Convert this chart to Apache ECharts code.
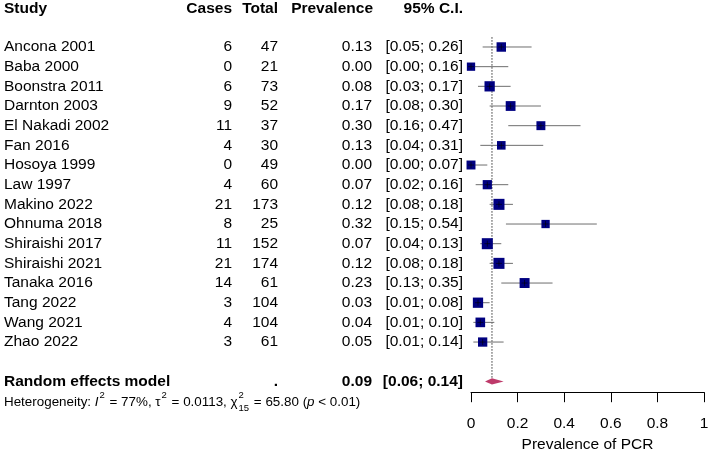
<!DOCTYPE html>
<html>
<head>
<meta charset="utf-8">
<script src="https://cdn.jsdelivr.net/npm/echarts@6/dist/echarts.min.js"></script>
<style>
html, body { margin: 0; padding: 0; background: #fff; }
#main { width: 709px; height: 451px; }
</style>
</head>
<body>
<div id="main"></div>
<script>
// study data
var studies = ['Ancona 2001', 'Baba 2000', 'Boonstra 2011', 'Darnton 2003', 'El Nakadi 2002', 'Fan 2016',
  'Hosoya 1999', 'Law 1997', 'Makino 2022', 'Ohnuma 2018', 'Shiraishi 2017', 'Shiraishi 2021',
  'Tanaka 2016', 'Tang 2022', 'Wang 2021', 'Zhao 2022'];
var cases = [6, 0, 6, 9, 11, 4, 0, 4, 21, 8, 11, 21, 14, 3, 4, 3];
var totals = [47, 21, 73, 52, 37, 30, 49, 60, 173, 25, 152, 174, 61, 104, 104, 61];
var prevalence = [0.13, 0.00, 0.08, 0.17, 0.30, 0.13, 0.00, 0.07, 0.12, 0.32, 0.07, 0.12, 0.23, 0.03, 0.04, 0.05];
var ciLower = [0.05, 0.00, 0.03, 0.08, 0.16, 0.04, 0.00, 0.02, 0.08, 0.15, 0.04, 0.08, 0.13, 0.01, 0.01, 0.01];
var ciUpper = [0.26, 0.16, 0.17, 0.30, 0.47, 0.31, 0.07, 0.16, 0.18, 0.54, 0.13, 0.18, 0.35, 0.08, 0.10, 0.14];
// random-effects weights (%), drive box size
var weights = [5.6, 4.3, 6.6, 6.0, 5.0, 4.6, 5.0, 5.3, 7.6, 4.3, 7.6, 7.6, 6.2, 6.6, 5.8, 5.4];
// pooled estimate [est, lower, upper]
var pooled = [0.09, 0.06, 0.14];
var xTicks = ['0', '0.2', '0.4', '0.6', '0.8', '1'];

var FONT = '"Liberation Sans", Arial, sans-serif';
var FS = 15.5;
var POOLED_ROW = 17;

var chart = echarts.init(document.getElementById('main'));

function txt(x, y, s, align, bold) {
  return {
    type: 'text',
    style: {
      x: x, y: y, text: s, align: align, verticalAlign: 'middle',
      font: (bold ? 'bold ' : '') + FS + 'px ' + FONT, fill: '#000'
    }
  };
}

var rows = studies.map(function (s, i) {
  return [prevalence[i], i, ciLower[i], ciUpper[i], weights[i]];
});

// heterogeneity line, pieces laid out with measured widths
function heterogeneity(x0, y0) {
  var ctx = document.createElement('canvas').getContext('2d');
  var fs = 13.4, small = 9.5;
  var parts = [
    ['Heterogeneity: ', 'n'], ['I', 'i'], ['2', 'sup'], [' = 77%, \u03c4', 'n'], ['2', 'sup'],
    [' = 0.0113, \u03c7', 'n'], ['2|15', 'supsub'], [' = 65.80 (', 'n'], ['p', 'i'], [' < 0.01)', 'n']
  ];
  var els = [], x = x0;
  parts.forEach(function (p) {
    var kind = p[1];
    if (kind === 'n' || kind === 'i') {
      var f = (kind === 'i' ? 'italic ' : '') + fs + 'px ' + FONT;
      ctx.font = f;
      els.push({ type: 'text', style: { x: x, y: y0, text: p[0], font: f, fill: '#000', verticalAlign: 'middle' } });
      x += ctx.measureText(p[0]).width;
    } else {
      var f2 = small + 'px ' + FONT;
      ctx.font = f2;
      var sup = kind === 'sup' ? p[0] : p[0].split('|')[0];
      var w = ctx.measureText(sup).width;
      els.push({ type: 'text', style: { x: x + 1, y: y0 - 6.5, text: sup, font: f2, fill: '#000', verticalAlign: 'middle' } });
      if (kind === 'supsub') {
        var sub = p[0].split('|')[1];
        els.push({ type: 'text', style: { x: x + 1, y: y0 + 6.5, text: sub, font: f2, fill: '#000', verticalAlign: 'middle' } });
        w = Math.max(w, ctx.measureText(sub).width);
      }
      x += w + 2;
    }
  });
  return els;
}

var option = {
  animation: false,
  grid: { left: 471, right: 5, top: 7.66, bottom: 58.8, containLabel: false, outerBoundsMode: 'none' },
  xAxis: {
    type: 'value', min: 0, max: 1, interval: 0.2, position: 'bottom',
    axisLine: { show: true, onZero: false, lineStyle: { color: '#000', width: 1 } },
    axisTick: { show: true, inside: false, length: 10, lineStyle: { color: '#000' } },
    axisLabel: {
      color: '#000', fontSize: FS, fontFamily: FONT, margin: 24,
      formatter: function (v) { return xTicks[Math.round(v / 0.2)]; }
    },
    splitLine: { show: false },
    name: 'Prevalence of PCR', nameLocation: 'middle', nameGap: 43,
    nameTextStyle: { color: '#000', fontSize: FS, fontFamily: FONT }
  },
  yAxis: { type: 'value', inverse: true, min: -2, max: 17.55, show: false },
  graphic: [
    txt(4, 9, 'Study', 'left', true),
    txt(232, 9, 'Cases', 'right', true),
    txt(278, 9, 'Total', 'right', true),
    txt(373, 9, 'Prevalence', 'right', true),
    txt(463, 9, '95% C.I.', 'right', true),
    { type: 'group', children: heterogeneity(4, 402) }
  ],
  series: [
    {
      // reference line at pooled estimate
      type: 'custom', clip: false, silent: true,
      data: [[pooled[0], -0.5, POOLED_ROW - 0.15]],
      renderItem: function (params, api) {
        var a = api.coord([api.value(0), api.value(1)]);
        var b = api.coord([api.value(0), api.value(2)]);
        return {
          type: 'line', shape: { x1: a[0], y1: a[1], x2: b[0], y2: b[1] },
          style: { stroke: '#333', lineWidth: 1, lineDash: [1.5, 1.5] }
        };
      }
    },
    {
      // table text columns
      type: 'custom', clip: false, silent: true,
      data: rows,
      renderItem: function (params, api) {
        var i = params.dataIndex;
        var y = api.coord([0, i])[1];
        return {
          type: 'group',
          children: [
            txt(4, y, studies[i], 'left'),
            txt(232, y, String(cases[i]), 'right'),
            txt(278, y, String(totals[i]), 'right'),
            txt(372, y, prevalence[i].toFixed(2), 'right'),
            txt(463, y, '[' + ciLower[i].toFixed(2) + '; ' + ciUpper[i].toFixed(2) + ']', 'right')
          ]
        };
      }
    },
    {
      // CI lines and weighted boxes
      type: 'custom', clip: false, silent: true,
      data: rows,
      renderItem: function (params, api) {
        var c = api.coord([api.value(0), api.value(1)]);
        var lo = api.coord([api.value(2), api.value(1)]);
        var hi = api.coord([api.value(3), api.value(1)]);
        var s = 4 * Math.sqrt(api.value(4));
        return {
          type: 'group',
          children: [
            { type: 'line', shape: { x1: lo[0], y1: c[1], x2: hi[0], y2: c[1] }, style: { stroke: '#6e6e6e', lineWidth: 1 } },
            { type: 'rect', shape: { x: c[0] - s / 2, y: c[1] - s / 2, width: s, height: s }, style: { fill: '#000080' } },
            { type: 'line', shape: { x1: c[0] - 3, y1: c[1], x2: c[0] + 3, y2: c[1] }, style: { stroke: '#000', lineWidth: 0.6 } },
            { type: 'line', shape: { x1: c[0], y1: c[1] - 3, x2: c[0], y2: c[1] + 3 }, style: { stroke: '#000', lineWidth: 0.6 } }
          ]
        };
      }
    },
    {
      // pooled estimate: diamond and text row
      type: 'custom', clip: false, silent: true,
      data: [[pooled[0], POOLED_ROW, pooled[1], pooled[2]]],
      renderItem: function (params, api) {
        var c = api.coord([api.value(0), api.value(1)]);
        var lo = api.coord([api.value(2), api.value(1)]);
        var hi = api.coord([api.value(3), api.value(1)]);
        var h = 3.2;
        var y = c[1];
        return {
          type: 'group',
          children: [
            { type: 'polygon', shape: { points: [[lo[0], y], [c[0], y - h], [hi[0], y], [c[0], y + h]] }, style: { fill: '#BE3A6A' } },
            txt(4, y, 'Random effects model', 'left', true),
            txt(278, y, '.', 'right', true),
            txt(372, y, pooled[0].toFixed(2), 'right', true),
            txt(463, y, '[' + pooled[1].toFixed(2) + '; ' + pooled[2].toFixed(2) + ']', 'right', true)
          ]
        };
      }
    }
  ]
};

chart.setOption(option);
window.addEventListener('resize', function () { chart.resize(); });
</script>
</body>
</html>
